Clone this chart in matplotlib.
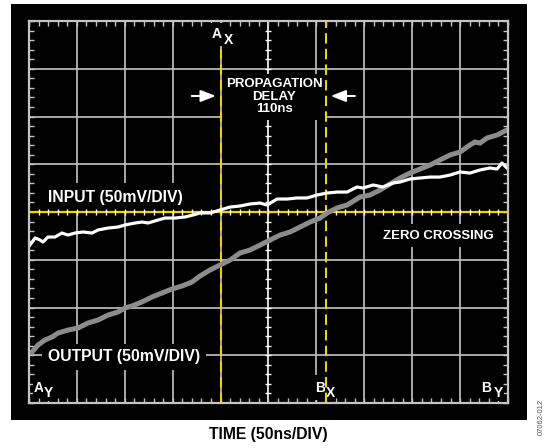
import numpy as np
import matplotlib
matplotlib.use('Agg')
import matplotlib.pyplot as plt
from matplotlib.patches import Rectangle

# Scope capture: 50 ns/div horizontally, 50 mV/div vertically (10 x 8 divisions)
time_range = (0, 500)      # ns
volt_range = (-200, 200)   # mV

# Input trace (white)
input_t = [1.0, 6.3, 11.5, 14.6, 19.8, 27.1, 34.4, 40.7, 48.0, 56.4, 65.8, 72.1,
           82.5, 93.0, 100.2, 110.7, 118.0, 124.3, 134.7, 142.0, 152.5, 162.9,
           171.3, 178.6, 189.0, 199.4, 209.9, 220.3, 230.7, 241.2, 248.5, 258.9,
           269.4, 279.8, 290.2, 300.7, 311.1, 321.5, 332.0, 342.4, 348.6, 359.1,
           369.5, 380.0, 387.3, 397.7, 408.1, 418.6, 429.0, 439.5, 449.9, 460.3,
           470.8, 481.2, 488.5, 493.7, 498.9]
input_mv = [-34.6, -27.2, -29.3, -31.4, -26.2, -26.2, -22.0, -24.1, -22.0, -20.9,
            -22.0, -18.8, -16.8, -15.7, -13.6, -11.5, -10.5, -11.5, -8.4, -6.3,
            -6.3, -5.2, -3.1, -1.0, -1.0, 2.1, 5.2, 6.3, 8.4, 9.4, 7.3, 13.6, 13.6,
            14.7, 14.7, 17.8, 19.9, 20.9, 20.9, 26.2, 25.1, 28.3, 26.2, 30.4, 31.4,
            34.6, 35.6, 36.6, 36.6, 38.7, 41.9, 40.8, 44.0, 46.1, 45.0, 51.3, 46.1]

# Output trace (gray)
output_t = [3.1, 9.4, 16.7, 24.0, 30.3, 40.7, 51.1, 61.6, 72.0, 82.5, 92.9, 100.2,
            107.5, 117.9, 128.4, 138.8, 149.3, 159.7, 170.1, 178.5, 189.0, 199.4,
            209.9, 220.3, 230.7, 241.2, 251.6, 262.1, 272.5, 283.0, 293.4, 303.8,
            311.1, 321.5, 332.0, 345.5, 356.0, 366.4, 376.8, 387.3, 397.7, 408.1,
            418.6, 429.0, 439.5, 449.9, 460.3, 465.5, 470.8, 478.1, 488.5, 498.9]
output_mv = [-146.6, -139.3, -134.0, -130.9, -126.7, -123.6, -121.5, -116.2, -113.1,
             -107.9, -104.7, -100.5, -98.4, -94.2, -89.0, -84.8, -80.6, -77.5, -73.3,
             -67.0, -60.7, -55.5, -50.3, -42.9, -39.8, -34.6, -29.3, -24.1, -20.9,
             -15.7, -10.5, -6.3, -1.0, 4.2, 7.3, 15.7, 17.8, 23.0, 29.3, 35.6, 40.8,
             45.0, 49.2, 54.5, 59.7, 62.8, 70.2, 73.3, 72.2, 77.5, 80.6, 85.9]

# Cursor positions (ns)
cursor_ax = 200
cursor_bx = 310

GRID = '#c4c4c4'
YELLOW = '#f2d200'
BOLD = dict(family='Liberation Sans', weight='bold', color='white')


def draw_screen(ax):
    """Black screen with graticule and minor ticks."""
    ax.set_facecolor('black')
    ax.set_xlim(*time_range)
    ax.set_ylim(*volt_range)

    for t in np.arange(50, 500, 50):
        ax.axvline(t, color='white' if t == 250 else GRID, lw=1.2, zorder=1)
    for v in np.arange(-150, 200, 50):
        ax.axhline(v, color='white' if v == 0 else GRID, lw=1.2, zorder=1)

    for s in ax.spines.values():
        s.set_color(GRID)
        s.set_linewidth(1.6)
        s.set_zorder(6)

    ax.set_xticks(np.arange(0, 501, 10))
    ax.set_yticks(np.arange(-200, 201, 10))
    ax.tick_params(direction='in', length=3.5, width=1, color=GRID,
                   top=True, right=True, labelbottom=False, labelleft=False)

    # small ticks along the centre cross
    tt = np.arange(10, 500, 10)
    vv = np.arange(-190, 200, 10)
    ax.plot(tt, np.zeros_like(tt), ls='none', marker='|', ms=5, mew=1,
            color='white', zorder=4.5)
    ax.plot(np.full_like(vv, 250), vv, ls='none', marker='_', ms=5, mew=1,
            color='white', zorder=1.5)


def draw_cursors(ax):
    ax.axhline(0, color=YELLOW, lw=1.6, zorder=4)
    ax.axvline(cursor_ax, ymax=0.93, color=YELLOW, lw=1.5, dashes=(5, 2.5), zorder=4)
    ax.axvline(cursor_bx, color=YELLOW, lw=1.5, dashes=(5, 2.5), zorder=4)


def label(ax, x, y, s, size, **kw):
    box = dict(facecolor='black', edgecolor='none', pad=kw.pop('pad', 2))
    ax.text(x, y, s, fontsize=size, bbox=box, zorder=3, **BOLD, **kw)


def main():
    fig = plt.figure(figsize=(5.47, 4.48), dpi=100)
    fig.patch.set_facecolor('white')
    fig.add_artist(Rectangle((0.0201, 0.0625), 0.9433, 0.9286, transform=fig.transFigure,
                             facecolor='black', edgecolor='none', zorder=-10))

    ax = fig.add_axes([0.0530, 0.1004, 0.8757, 0.8527])
    draw_screen(ax)
    draw_cursors(ax)

    ax.plot(output_t, output_mv, color='#8c8c8c', lw=3.6, zorder=5,
            solid_joinstyle='miter')
    ax.plot(input_t, input_mv, color='white', lw=2.3, zorder=5)

    # text on the screen
    label(ax, 19.8, 15.7, 'INPUT (50mV/DIV)', 11.3, ha='left', va='center', pad=5)
    label(ax, 19.8, -151.8, 'OUTPUT (50mV/DIV)', 11.3, ha='left', va='center', pad=4)
    label(ax, 256, 120.5, 'PROPAGATION\nDELAY\n110ns', 9.5, ha='center', va='center',
          linespacing=1.05, pad=3)
    label(ax, 427, -25, 'ZERO CROSSING', 9.5, ha='center', va='center', pad=4)

    label(ax, 196, 186, 'A', 10, ha='center', va='center', pad=3)
    label(ax, 208, 180, 'X', 10, ha='center', va='center', pad=1)
    label(ax, 304, -184, 'B', 10, ha='center', va='center', pad=4)
    label(ax, 315, -189.5, 'X', 10, ha='center', va='center', pad=0.5)
    label(ax, 477, -184, 'B', 10, ha='center', va='center', pad=1)
    label(ax, 489.5, -189.5, 'Y', 10, ha='center', va='center', pad=1)
    label(ax, 10.4, -184, 'A', 10, ha='center', va='center', pad=1)
    label(ax, 20.5, -189.5, 'Y', 10, ha='center', va='center', pad=1)

    arrow = dict(arrowstyle='-|>,head_length=0.9,head_width=0.35', color='white', lw=1.5)
    ax.annotate('', xy=(198, 121.5), xytext=(167, 121.5), arrowprops=arrow, zorder=6)
    ax.annotate('', xy=(312, 121.5), xytext=(343, 121.5), arrowprops=arrow, zorder=6)

    fig.text(0.49, 0.030, 'TIME (50ns/DIV)', ha='center', va='center',
             fontsize=11.3, family='Liberation Sans', weight='bold', color='black')
    fig.text(0.989, 0.07, '07062-012', rotation=90, ha='center', va='center',
             fontsize=5.5, family='Liberation Sans', color='#555555')

    fig.savefig('out.png', dpi=100, facecolor='white')


if __name__ == "__main__":
    main()
